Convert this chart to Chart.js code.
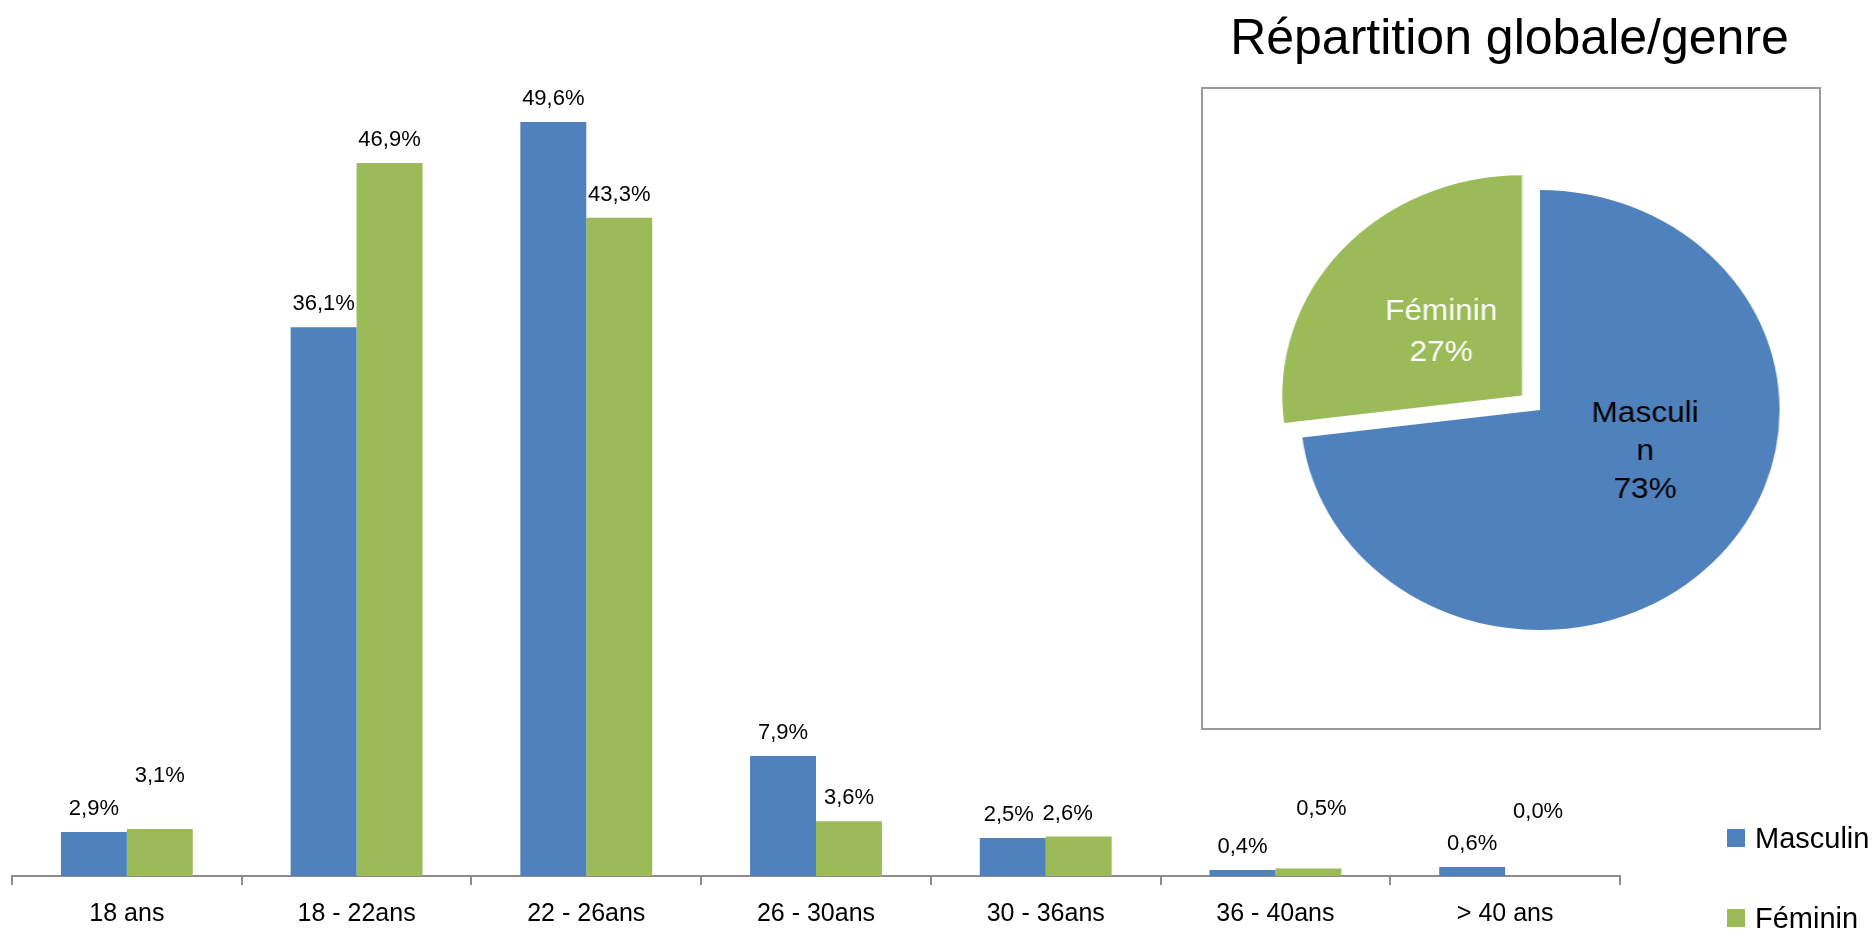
<!DOCTYPE html>
<html lang="fr">
<head>
<meta charset="utf-8">
<title>Répartition par âge et par genre</title>
<script src="https://cdn.jsdelivr.net/npm/chart.js@4.4.1/dist/chart.umd.min.js"></script>
<style>
  body { margin: 0; background: #fff; font-family: "Liberation Sans", Arial, sans-serif; }
  #page { position: relative; width: 1875px; height: 929px; overflow: hidden; }
  /* taller than the page: the x axis reserves padding below its labels */
  #barBox { position: absolute; left: 0; top: 0; width: 1875px; height: 943px; }
  #pieFrame { position: absolute; left: 1201px; top: 87px; width: 620px; height: 643px; border: 2px solid #9a9a9a; box-sizing: border-box; }
  #pieBox { position: absolute; left: 1290px; top: 160px; width: 500px; height: 500px; transform: scaleX(1.089); transform-origin: 50% 50%; }
  #title { position: absolute; left: 1199px; width: 621px; top: 12px; text-align: center; font-size: 50px; line-height: 1; color: #000; }
  #legend { position: absolute; left: 1727px; top: 818px; }
  .item { display: flex; align-items: center; height: 40px; margin-bottom: 40px; font-size: 29px; line-height: 1; color: #000; }
  .swatch { width: 18px; height: 18px; margin-right: 10px; }
</style>
</head>
<body>
<div id="page">
  <div id="barBox"><canvas id="age-chart"></canvas></div>
  <div id="pieFrame"></div>
  <div id="title">Répartition globale/genre</div>
  <div id="pieBox"><canvas id="gender-chart"></canvas></div>
  <div id="legend"></div>
</div>
<script>
// Age groups and share (%) per gender
const ageGroups = ['18 ans', '18 - 22ans', '22 - 26ans', '26 - 30ans', '30 - 36ans', '36 - 40ans', '> 40 ans'];
const masculin = [2.9, 36.1, 49.6, 7.9, 2.5, 0.4, 0.6];
const feminin = [3.1, 46.9, 43.3, 3.6, 2.6, 0.5, 0.0];

// Overall split
const genders = ['Masculin', 'Féminin'];
const genderShare = [73, 27];

const BLUE = '#4F81BD';
const GREEN = '#9BBB59';
const FONT = '"Liberation Sans", Arial, sans-serif';

// label nudges [dx, lift] where the original labels were moved by hand
const labelNudges = [
    { 4: [-4, 0] },
    { 0: [0, 30], 4: [-11, 0], 5: [13, 36], 6: [0, 41] }
];

function pct(v) {
    return v.toFixed(1).replace('.', ',') + '%';
}

// values above the bars
const barLabels = {
    id: 'barLabels',
    afterDatasetsDraw(chart) {
        const ctx = chart.ctx;
        ctx.save();
        ctx.font = '22px ' + FONT;
        ctx.fillStyle = '#000';
        ctx.textAlign = 'center';
        ctx.textBaseline = 'middle';
        chart.data.datasets.forEach(function(ds, i) {
            chart.getDatasetMeta(i).data.forEach(function(bar, j) {
                const n = labelNudges[i][j] || [0, 0];
                ctx.fillText(pct(ds.data[j]), bar.x + n[0], bar.y - 23 - n[1]);
            });
        });
        ctx.restore();
    }
};

// break a word by characters when it is wider than maxWidth
function wrapChars(ctx, text, maxWidth) {
    const lines = [];
    let line = '';
    for (const ch of text) {
        if (line && ctx.measureText(line + ch).width > maxWidth) {
            lines.push(line);
            line = ch;
        } else {
            line += ch;
        }
    }
    if (line) lines.push(line);
    return lines;
}

const pieShift = [[14, -31], [0, 3]];
const pieTextColor = ['#000', '#fff'];

const pieLabels = {
    id: 'pieLabels',
    afterDatasetsDraw(chart) {
        const ctx = chart.ctx;
        const ds = chart.data.datasets[0];
        ctx.save();
        ctx.font = '29px ' + FONT;
        ctx.textAlign = 'center';
        ctx.textBaseline = 'middle';
        chart.getDatasetMeta(0).data.forEach(function(arc, i) {
            const p = arc.getProps(['x', 'y', 'startAngle', 'endAngle', 'outerRadius']);
            const mid = (p.startAngle + p.endAngle) / 2;
            // v4 draws the slice pulled out by offset / 4
            const r = (p.outerRadius + (arc.options.offset || 0) / 4) / 2;
            const x = p.x + Math.cos(mid) * r + pieShift[i][0];
            const y = p.y + Math.sin(mid) * r + pieShift[i][1];
            const lines = wrapChars(ctx, chart.data.labels[i], 108).concat([ds.data[i] + '%']);
            const lh = lines.length > 2 ? 38 : 41;
            const y0 = y - (lines.length - 1) * lh / 2;
            ctx.fillStyle = pieTextColor[i];
            lines.forEach(function(t, k) {
                ctx.fillText(t, x, y0 + k * lh);
            });
        });
        ctx.restore();
    }
};

document.addEventListener('DOMContentLoaded', function() {
    initializeAgeChart();
    initializeGenderChart();
});

function initializeAgeChart() {
    const canvas = document.getElementById('age-chart');
    const chart = new Chart(canvas, {
        type: 'bar',
        data: {
            labels: ageGroups,
            datasets: [
                { label: 'Masculin', data: masculin, backgroundColor: BLUE, borderWidth: 0 },
                { label: 'Féminin', data: feminin, backgroundColor: GREEN, borderWidth: 0 }
            ]
        },
        options: {
            responsive: true,
            maintainAspectRatio: false,
            animation: false,
            datasets: { bar: { categoryPercentage: 0.574, barPercentage: 1 } },
            layout: { padding: { left: 12, right: 255, top: 40, bottom: 0 } },
            scales: {
                x: {
                    grid: { drawOnChartArea: false, drawTicks: true, tickLength: 9, color: '#8c8c8c', lineWidth: 2, offset: true },
                    border: { display: true, color: '#8c8c8c', width: 2 },
                    ticks: { color: '#000', padding: 14, font: { size: 25, family: FONT } }
                },
                y: { display: false, min: 0, max: 55 }
            },
            plugins: {
                legend: { display: false },
                tooltip: { enabled: false }
            }
        },
        plugins: [barLabels]
    });

    // legend on the right
    const legend = document.getElementById('legend');
    chart.data.datasets.forEach(function(ds) {
        const item = document.createElement('div');
        item.className = 'item';
        const sw = document.createElement('span');
        sw.className = 'swatch';
        sw.style.background = ds.backgroundColor;
        item.appendChild(sw);
        item.appendChild(document.createTextNode(ds.label));
        legend.appendChild(item);
    });
}

function initializeGenderChart() {
    const canvas = document.getElementById('gender-chart');
    new Chart(canvas, {
        type: 'pie',
        data: {
            labels: genders,
            datasets: [{
                data: genderShare,
                backgroundColor: [BLUE, GREEN],
                borderWidth: 0,
                offset: [0, 88],
                radius: 220
            }]
        },
        options: {
            responsive: true,
            maintainAspectRatio: false,
            animation: false,
            plugins: {
                legend: { display: false },
                tooltip: { enabled: false }
            }
        },
        plugins: [pieLabels]
    });
}
</script>
</body>
</html>
